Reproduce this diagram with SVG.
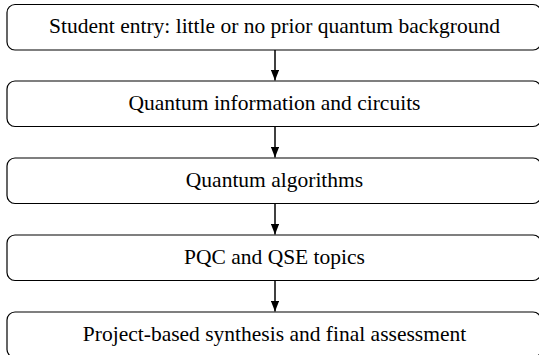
<svg xmlns="http://www.w3.org/2000/svg" width="539" height="355" viewBox="0 0 539 355">
<style>
.box{fill:#fff;stroke:#000;stroke-width:1.2}
.lbl{font-family:"Liberation Serif","Times New Roman",serif;font-size:21.5px;fill:#000;text-anchor:middle}
.arr{stroke:#000;stroke-width:1.5;fill:none}
</style>
<defs>
<marker id="ah" viewBox="0 0 10 10" refX="10" refY="5" markerWidth="11" markerHeight="8.5" markerUnits="userSpaceOnUse" orient="auto" preserveAspectRatio="none">
<path d="M0,0 L10,5 L0,10 Z" fill="#000"/>
</marker>
</defs>
<rect width="539" height="355" fill="#fff"/>
<g id="n1"><rect class="box" x="7" y="4.5" width="534" height="45.5" rx="8"/><text class="lbl" x="274.5" y="33">Student entry: little or no prior quantum background</text></g>
<g id="n2"><rect class="box" x="7" y="81" width="534" height="45.5" rx="8"/><text class="lbl" x="274.5" y="109.5">Quantum information and circuits</text></g>
<g id="n3"><rect class="box" x="7" y="158" width="534" height="45.5" rx="8"/><text class="lbl" x="274.5" y="186.5">Quantum algorithms</text></g>
<g id="n4"><rect class="box" x="7" y="235" width="534" height="45.5" rx="8"/><text class="lbl" x="274.5" y="263.5">PQC and QSE topics</text></g>
<g id="n5"><rect class="box" x="7" y="312" width="534" height="45.5" rx="8"/><text class="lbl" x="274.5" y="340.5">Project-based synthesis and final assessment</text></g>
<g id="connectors">
<line class="arr" x1="275" y1="50" x2="275" y2="80.5" marker-end="url(#ah)"/>
<line class="arr" x1="275" y1="126.5" x2="275" y2="157.5" marker-end="url(#ah)"/>
<line class="arr" x1="275" y1="203.5" x2="275" y2="234.5" marker-end="url(#ah)"/>
<line class="arr" x1="275" y1="280.5" x2="275" y2="311.5" marker-end="url(#ah)"/>
</g>
</svg>
